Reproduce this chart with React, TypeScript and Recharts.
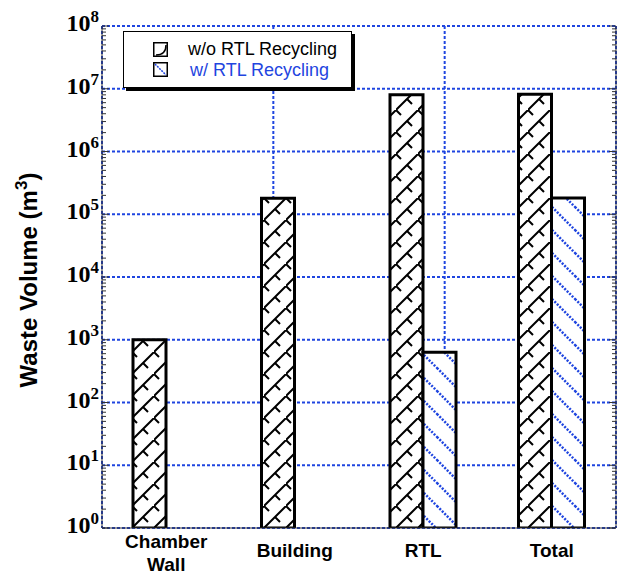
import { Bar, BarChart, CartesianGrid, Legend, XAxis, YAxis } from "recharts";

const categories = ["Chamber Wall", "Building", "RTL", "Total"];
const withoutRecycling = [1000, 1.8e5, 8.0e6, 8.18e6];
const withRecycling = [null, null, 630, 1.82e5];
const seriesNames = ["w/o RTL Recycling", "w/ RTL Recycling"];
const decadeTicks = [1, 10, 100, 1e3, 1e4, 1e5, 1e6, 1e7, 1e8];
const minorMultipliers = [1, 2, 3, 4, 5, 6, 7, 8, 9];
const categoryEdges = [0, 1, 2, 3, 4];

const data = categories.map((name, i) => ({
  name,
  without: withoutRecycling[i],
  with: withRecycling[i],
}));

// every log tick 1..9 x 10^k, used for the minor tick marks on both sides
const allTicks = decadeTicks
  .slice(0, -1)
  .flatMap((d) => minorMultipliers.map((m) => m * d))
  .concat([1e8]);

const BLUE = "#1f45e0";
const AXIS = "#333";

const isDecade = (v: number) => Math.abs(Math.log10(v) - Math.round(Math.log10(v))) < 1e-9;

const LeftTick = (props: any) => {
  const { x, y, payload } = props;
  const v = payload.value;
  const major = isDecade(v);
  return (
    <g>
      <line x1={x} x2={x + (major ? 7 : 4)} y1={y} y2={y} stroke={AXIS} strokeWidth={1} />
      {major && (
        <text
          x={x - 3}
          y={y + 5}
          textAnchor="end"
          fontFamily="'Liberation Serif', 'Times New Roman', serif"
          fontWeight="bold"
          fill="#000"
        >
          <tspan fontSize={24}>10</tspan>
          <tspan fontSize={17} dy={-9}>
            {Math.round(Math.log10(v))}
          </tspan>
        </text>
      )}
    </g>
  );
};

const RightTick = (props: any) => {
  const { x, y, payload } = props;
  const major = isDecade(payload.value);
  return <line x1={x} x2={x - (major ? 7 : 4)} y1={y} y2={y} stroke={AXIS} strokeWidth={1} />;
};

const CategoryTick = (props: any) => {
  const { x, y, payload } = props;
  const lines = String(payload.value).split(" ");
  const baselines = lines.length > 1 ? [20, 43] : [29];
  return (
    <text
      textAnchor="middle"
      fontFamily="'Liberation Sans', Arial, sans-serif"
      fontWeight="bold"
      fontSize={19}
      fill="#000"
    >
      {lines.map((l, i) => (
        <tspan key={l} x={x} y={y + baselines[i]}>
          {l}
        </tspan>
      ))}
    </text>
  );
};

const LegendBox = () => (
  <div
    style={{
      width: 227,
      height: 55,
      background: "#fff",
      border: "1px solid #000",
      boxShadow: "3px 3px 0 #000",
      position: "relative",
      fontFamily: "'Liberation Sans', Arial, sans-serif",
      fontSize: 18,
    }}
  >
    <svg width={15} height={15} style={{ position: "absolute", left: 29, top: 10 }}>
      <rect x={0.75} y={0.75} width={13.5} height={13.5} fill="#fff" stroke="#000" strokeWidth={1.5} />
      <path d="M3,13 Q13,13 13,3" fill="none" stroke="#000" strokeWidth={1.5} />
    </svg>
    <span style={{ position: "absolute", left: 64, top: 7, color: "#000", lineHeight: "20px" }}>
      {seriesNames[0]}
    </span>
    <svg width={15} height={15} style={{ position: "absolute", left: 29, top: 30 }}>
      <rect x={0.75} y={0.75} width={13.5} height={13.5} fill="#fff" stroke="#000" strokeWidth={1.5} />
      <path d="M2,2 L13,13" stroke={BLUE} strokeWidth={1.5} strokeDasharray="2 1" />
    </svg>
    <span style={{ position: "absolute", left: 66, top: 28, color: BLUE, lineHeight: "20px" }}>
      {seriesNames[1]}
    </span>
  </div>
);

export default function App() {
  return (
    <div style={{ position: "absolute", left: 0, top: 0, background: "#fff" }}>
      <BarChart
        width={619}
        height={574}
        data={data}
        margin={{ top: 26, right: 0, bottom: 0, left: 0 }}
        barGap={0}
        barCategoryGap={0}
      >
        <defs>
          <pattern id="hatchWithout" width={22} height={22} patternUnits="userSpaceOnUse">
            <rect width={22} height={22} fill="#fff" />
            <path
              d="M0,22 L22,0 M0,0 L5,5 M11,11 L16,16"
              stroke="#000"
              strokeWidth={2}
              fill="none"
            />
          </pattern>
          <pattern id="hatchWith" width={23} height={23} patternUnits="userSpaceOnUse">
            <rect width={23} height={23} fill="#fff" />
            <path
              d="M0,0 L23,23 M-3,20 L3,26 M20,-3 L26,3"
              stroke={BLUE}
              strokeWidth={2.5}
              strokeDasharray="2 1.5"
              fill="none"
            />
          </pattern>
        </defs>
        <CartesianGrid
          xAxisId="edges"
          yAxisId="grid"
          stroke={BLUE}
          strokeWidth={2}
          strokeDasharray="3 2"
        />
        <YAxis
          yAxisId="left"
          scale="log"
          domain={[1, 1e8]}
          allowDataOverflow
          ticks={allTicks}
          interval={0}
          width={102}
          tickSize={0}
          tickMargin={0}
          tickLine={false}
          axisLine={{ stroke: AXIS }}
          tick={<LeftTick />}
        />
        <YAxis
          yAxisId="right"
          orientation="right"
          scale="log"
          domain={[1, 1e8]}
          allowDataOverflow
          ticks={allTicks}
          interval={0}
          width={3}
          tickSize={0}
          tickMargin={0}
          tickLine={false}
          axisLine={{ stroke: AXIS }}
          tick={<RightTick />}
        />
        <XAxis
          dataKey="name"
          height={46}
          interval={0}
          tickSize={0}
          tickMargin={0}
          tickLine={false}
          axisLine={{ stroke: AXIS }}
          tick={<CategoryTick />}
        />
        <XAxis xAxisId="edges" type="number" domain={[0, 4]} ticks={categoryEdges} height={0} hide />
        <YAxis
          yAxisId="grid"
          scale="log"
          domain={[1, 1e8]}
          ticks={decadeTicks}
          allowDataOverflow
          width={0}
          hide
        />
        <Legend
          verticalAlign="middle"
          align="center"
          layout="horizontal"
          content={<LegendBox />}
          wrapperStyle={{ position: "absolute", left: 123, top: 31, width: 227, height: 55 }}
        />
        <Bar
          yAxisId="left"
          dataKey="without"
          name={seriesNames[0]}
          barSize={33}
          fill="url(#hatchWithout)"
          stroke="#000"
          strokeWidth={3}
          isAnimationActive={false}
        />
        <Bar
          yAxisId="left"
          dataKey="with"
          name={seriesNames[1]}
          barSize={33}
          fill="url(#hatchWith)"
          stroke="#000"
          strokeWidth={3}
          isAnimationActive={false}
        />
      </BarChart>
      <svg
        width={60}
        height={574}
        style={{ position: "absolute", left: 0, top: 0, pointerEvents: "none" }}
      >
        <text
          transform="translate(37,280) rotate(-90)"
          textAnchor="middle"
          fontFamily="'Liberation Sans', Arial, sans-serif"
          fontWeight="bold"
          fontSize={24}
          fill="#000"
        >
          Waste Volume (m
          <tspan fontSize={17} dy={-10}>
            3
          </tspan>
          <tspan dy={10}>)</tspan>
        </text>
      </svg>
    </div>
  );
}
